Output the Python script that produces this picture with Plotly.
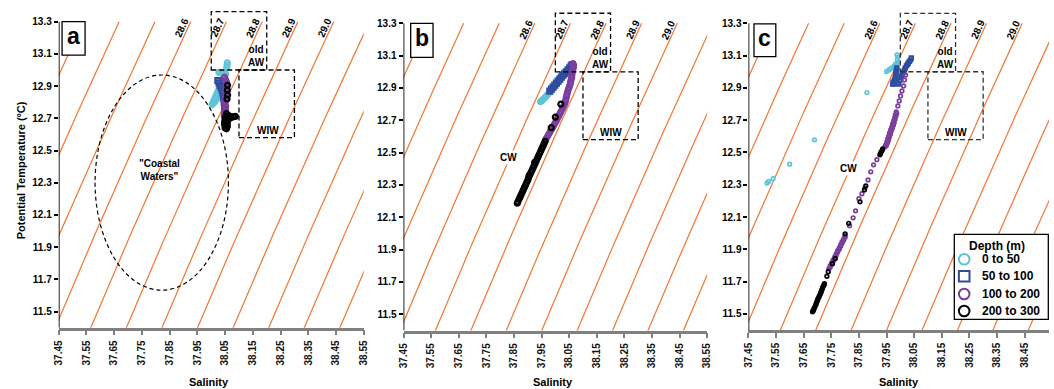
import numpy as np
import plotly.graph_objects as go

# ---------------- data ----------------
SIGMA_LEVELS = [28.3, 28.4, 28.5, 28.6, 28.7, 28.8, 28.9, 29.0, 29.1, 29.2, 29.3, 29.4]
LABELED_LEVELS = [28.6, 28.7, 28.8, 28.9, 29.0]
X_TICKS = [37.45, 37.55, 37.65, 37.75, 37.85, 37.95, 38.05, 38.15, 38.25, 38.35, 38.45, 38.55]
Y_TICKS = [11.5, 11.7, 11.9, 12.1, 12.3, 12.5, 12.7, 12.9, 13.1, 13.3]
DEPTH_CLASSES = ["0 to 50", "50 to 100", "100 to 200", "200 to 300"]
DEPTH_COLORS = ["#5ec4d6", "#2f4da0", "#7a3e9d", "#000000"]
DEPTH_SYMBOLS = ["circle-open", "square-open", "circle-open", "circle-open"]

# panel a
A_S_0_50 = [38.058, 38.057, 38.056, 38.028, 38.036, 38.044, 38.052, 38.048, 38.044, 38.040, 38.036, 38.033,
            38.029, 38.025, 38.021, 38.017, 38.013, 38.009, 38.006, 38.003, 38.034, 38.040, 38.046, 38.052,
            38.049, 38.043, 38.038, 38.033, 38.012, 38.018]
A_T_0_50 = [13.045, 13.030, 13.015, 12.985, 12.982, 12.978, 12.975, 12.960, 12.945, 12.930, 12.915, 12.900,
            12.885, 12.870, 12.855, 12.840, 12.825, 12.810, 12.795, 12.785, 12.920, 12.905, 12.890, 12.875,
            12.860, 12.850, 12.840, 12.830, 12.800, 12.815]
A_S_50_100 = [38.024, 38.028, 38.032, 38.036, 38.040, 38.042, 38.044, 38.046, 38.047, 38.048, 38.049, 38.050]
A_T_50_100 = [12.935, 12.920, 12.905, 12.890, 12.875, 12.860, 12.840, 12.820, 12.800, 12.780, 12.760, 12.740]
A_S_100_200 = [38.048, 38.052, 38.055, 38.056, 38.054, 38.052, 38.053, 38.055, 38.054, 38.051, 38.049, 38.050,
               38.052, 38.051, 38.049, 38.048, 38.047]
A_T_100_200 = [12.955, 12.940, 12.925, 12.910, 12.895, 12.880, 12.865, 12.850, 12.835, 12.820, 12.805, 12.790,
               12.775, 12.760, 12.745, 12.730, 12.715]
A_S_200_300 = [38.059, 38.058, 38.059, 38.057, 38.055, 38.053, 38.050, 38.049, 38.048, 38.049, 38.050, 38.055,
               38.058, 38.058, 38.060, 38.066, 38.073, 38.080, 38.087, 38.065, 38.059]
A_T_200_300 = [12.905, 12.875, 12.845, 12.820, 12.730, 12.715, 12.700, 12.685, 12.670, 12.655, 12.640, 12.635,
               12.650, 12.670, 12.690, 12.700, 12.705, 12.710, 12.712, 12.715, 12.700]

# panel b
B_S_0_50 = [37.946, 37.951, 37.956, 37.962, 37.967, 37.972, 37.977]
B_T_0_50 = [12.815, 12.822, 12.830, 12.840, 12.850, 12.860, 12.870]
B_S_50_100 = [37.980, 37.986, 37.992, 37.998, 38.004, 38.010, 38.016, 38.022, 38.028, 38.034, 38.040, 38.046,
              38.052, 38.057, 38.061]
B_T_50_100 = [12.880, 12.893, 12.905, 12.917, 12.930, 12.942, 12.955, 12.967, 12.980, 12.990, 13.000, 13.012,
              13.024, 13.036, 13.045]
B_S_100_200 = [38.064, 38.066, 38.065, 38.063, 38.061, 38.060, 38.059, 38.057, 38.055, 38.053, 38.050, 38.047,
               38.044, 38.042, 38.040, 38.038, 38.036, 38.033, 38.029, 38.025, 38.020, 38.016, 38.012, 38.007,
               38.003, 37.998, 37.993, 37.988, 37.983, 37.978, 37.973, 37.968, 37.964]
B_T_100_200 = [13.050, 13.040, 13.025, 13.010, 12.995, 12.980, 12.965, 12.950, 12.935, 12.920, 12.905, 12.890,
               12.875, 12.860, 12.845, 12.830, 12.815, 12.800, 12.785, 12.770, 12.755, 12.740, 12.725, 12.710,
               12.695, 12.680, 12.665, 12.650, 12.635, 12.620, 12.605, 12.590, 12.578]
B_S_200_300 = [38.020, 38.000, 37.985, 37.963, 37.959, 37.955, 37.951, 37.947, 37.943, 37.939, 37.935, 37.931,
               37.927, 37.923, 37.919, 37.915, 37.911, 37.907, 37.903, 37.900, 37.896, 37.892, 37.888, 37.884,
               37.880, 37.876, 37.872, 37.868, 37.864, 37.862, 37.925, 37.905]
B_T_200_300 = [12.800, 12.720, 12.655, 12.570, 12.555, 12.540, 12.525, 12.510, 12.495, 12.480, 12.465, 12.450,
               12.435, 12.420, 12.405, 12.390, 12.375, 12.360, 12.345, 12.330, 12.315, 12.300, 12.285, 12.270,
               12.255, 12.240, 12.225, 12.210, 12.195, 12.187, 12.440, 12.360]

# panel c
C_S_0_50 = [37.517, 37.523, 37.539, 37.599, 37.689, 37.879, 37.950, 37.961, 37.972, 37.983, 37.992, 37.990,
            37.988, 37.988, 37.988, 37.988, 37.988, 37.956, 37.967, 37.978, 37.989, 37.989]
C_T_0_50 = [12.310, 12.320, 12.337, 12.427, 12.578, 12.871, 13.001, 13.014, 13.027, 13.048, 13.091, 13.060,
            13.104, 13.036, 12.999, 12.961, 12.931, 13.008, 13.020, 13.036, 13.075, 13.018]
C_S_50_100 = [37.972, 37.976, 37.979, 37.983, 37.985, 37.987, 37.994, 38.001, 38.008, 38.015, 38.022, 38.029,
              38.037, 38.040, 37.974, 37.978, 37.990, 37.998, 38.004, 38.011, 38.018, 38.026, 38.033, 37.981,
              37.984, 37.986]
C_T_50_100 = [12.924, 12.924, 12.949, 12.974, 12.999, 13.023, 12.924, 12.962, 12.986, 13.011, 13.036, 13.054,
              13.073, 13.085, 12.935, 12.940, 12.930, 12.945, 12.974, 12.998, 13.023, 13.045, 13.064, 12.962,
              12.987, 13.011]
C_S_100_200 = [38.019, 38.015, 38.012, 38.006, 38.001, 37.996, 37.991, 37.985, 37.982, 37.979, 37.976, 37.972,
               37.969, 37.965, 37.961, 37.958, 37.954, 37.951, 37.947, 37.944, 37.915, 37.903, 37.893, 37.883,
               37.872, 37.861, 37.850, 37.838, 37.829, 37.816, 37.800, 37.795, 37.789, 37.784, 37.779, 37.773,
               37.768, 37.763, 37.757, 37.752, 37.746, 37.741,
               37.987, 37.984, 37.981, 37.978, 37.975, 37.971, 37.967, 37.964, 37.960, 37.957, 37.953, 37.949,
               37.800, 37.795, 37.789, 37.784, 37.779, 37.773, 37.768, 37.763, 37.757, 37.752, 37.746]
C_T_100_200 = [12.980, 12.949, 12.912, 12.881, 12.850, 12.819, 12.788, 12.751, 12.733, 12.714, 12.695, 12.677,
               12.658, 12.640, 12.621, 12.603, 12.584, 12.566, 12.547, 12.535, 12.455, 12.423, 12.380, 12.330,
               12.281, 12.244, 12.213, 12.138, 12.095, 12.046, 11.984, 11.965, 11.947, 11.928, 11.910, 11.891,
               11.873, 11.854, 11.835, 11.817, 11.798, 11.779,
               12.742, 12.724, 12.705, 12.686, 12.668, 12.649, 12.631, 12.612, 12.594, 12.575, 12.557, 12.541,
               11.975, 11.956, 11.937, 11.919, 11.900, 11.882, 11.863, 11.845, 11.826, 11.808, 11.789]
C_S_200_300 = [37.936, 37.931, 37.926, 37.875, 37.870, 37.854, 37.813, 37.800, 37.764, 37.754, 37.739, 37.734,
               37.725, 37.720, 37.716, 37.712, 37.707, 37.702, 37.698, 37.694, 37.689, 37.685, 37.682,
               37.934, 37.928, 37.723, 37.718, 37.714, 37.710, 37.705, 37.700, 37.696, 37.692, 37.687, 37.684]
C_T_200_300 = [12.522, 12.504, 12.485, 12.293, 12.268, 12.194, 12.061, 11.996, 11.842, 11.811, 11.761, 11.733,
               11.687, 11.668, 11.650, 11.631, 11.612, 11.594, 11.575, 11.557, 11.538, 11.522, 11.513,
               12.513, 12.494, 11.678, 11.659, 11.640, 11.622, 11.603, 11.585, 11.566, 11.548, 11.530, 11.517]

PANELS = {
    "a": [(A_S_0_50, A_T_0_50), (A_S_50_100, A_T_50_100), (A_S_100_200, A_T_100_200), (A_S_200_300, A_T_200_300)],
    "b": [(B_S_0_50, B_T_0_50), (B_S_50_100, B_T_50_100), (B_S_100_200, B_T_100_200), (B_S_200_300, B_T_200_300)],
    "c": [(C_S_0_50, C_T_0_50), (C_S_50_100, C_T_50_100), (C_S_100_200, C_T_100_200), (C_S_200_300, C_T_200_300)],
}

# water-mass boxes (salinity, temperature)
OLD_AW_BOX = (38.0, 38.2, 13.0, 13.362)
WIW_BOX = (38.1, 38.3, 12.58, 13.0)
COASTAL_ELLIPSE = (37.581, 38.062, 11.633, 12.969)

# ---------------- helpers ----------------
W, H = 1054, 389
FONT = "Liberation Sans, Arial, sans-serif"
ORANGE = "#f37431"


def b(txt):
    return "<b>" + txt + "</b>"


def sigma_theta(S, T):
    rw = (999.842594 + 6.793952e-2 * T - 9.095290e-3 * T ** 2 + 1.001685e-4 * T ** 3
          - 1.120083e-6 * T ** 4 + 6.536332e-9 * T ** 5)
    A = 8.24493e-1 - 4.0899e-3 * T + 7.6438e-5 * T ** 2 - 8.2467e-7 * T ** 3 + 5.3875e-9 * T ** 4
    B = -5.72466e-3 + 1.0227e-4 * T - 1.6546e-6 * T ** 2
    C = 4.8314e-4
    return rw + A * S + B * S ** 1.5 + C * S ** 2 - 1000.0


def salinity_on(sig, T):
    T = np.asarray(T, dtype=float)
    S = np.full_like(T, 38.0)
    for _ in range(10):
        f = sigma_theta(S, T) - sig
        d = (sigma_theta(S + 1e-4, T) - sigma_theta(S - 1e-4, T)) / 2e-4
        S = S - f / d
    return S


def ydom(py_top_tick, py_bottom):
    k = (py_bottom - py_top_tick) / 1.9
    py_top = py_top_tick - 0.1 * k
    return [(H - py_bottom) / H, (H - py_top) / H]


panel_geom = {
    "a": dict(x0=53.3, kx=280.2, ytop=21.7, ybot=327.7, box=(37.462, 37.545, 13.093, 13.300),
              sal_x=205, msize=5, mline=2.2),
    "b": dict(x0=401.7, kx=279.0, ytop=23.3, ybot=330.5, box=(37.476, 37.557, 13.089, 13.300),
              sal_x=553, msize=5, mline=2.2),
    "c": dict(x0=750.3, kx=279.0, ytop=23.3, ybot=330.0, box=(37.470, 37.549, 13.094, 13.296),
              sal_x=902, msize=3.6, mline=1.7),
}

fig = go.Figure()
layout_axes = {}
shapes = []
annotations = []
T_grid = np.linspace(11.3, 13.3, 81)


def txt_ann(**kw):
    d = dict(showarrow=False, xanchor="center", yanchor="middle")
    d.update(kw)
    return d


for i, (name, g) in enumerate(panel_geom.items()):
    sfx = "" if i == 0 else str(i + 1)
    xa, ya = "x" + sfx, "y" + sfx
    x_end_px = min(g["x0"] + 1.1 * g["kx"], W)
    x_max = 37.45 + (x_end_px - g["x0"]) / g["kx"]
    layout_axes["xaxis" + sfx] = dict(
        domain=[g["x0"] / W, x_end_px / W], range=[37.45, x_max], anchor=ya,
        showgrid=False, zeroline=False, showline=True, linecolor="#808080", linewidth=2.5,
        ticks="outside", ticklen=5, tickwidth=1.5, tickcolor="#808080",
        tickvals=X_TICKS, ticktext=[b("%.2f" % v) for v in X_TICKS], tickangle=-90,
        tickfont=dict(family=FONT, size=10, color="#111"), ticklabelstandoff=1,
    )
    layout_axes["yaxis" + sfx] = dict(
        domain=ydom(g["ytop"], g["ybot"]), range=[11.4, 13.4], anchor=xa,
        showgrid=False, zeroline=False, showline=False,
        ticks="outside", ticklen=4, tickwidth=1.5, tickcolor="black",
        tickvals=Y_TICKS, ticktext=[b("%.1f" % v) for v in Y_TICKS],
        tickfont=dict(family=FONT, size=10, color="black"),
    )

    # isopycnals
    for sig in SIGMA_LEVELS:
        fig.add_trace(go.Scatter(x=salinity_on(sig, T_grid), y=T_grid, mode="lines",
                                 line=dict(color=ORANGE, width=1.2), xaxis=xa, yaxis=ya,
                                 hoverinfo="skip", showlegend=False))
    for sig in LABELED_LEVELS:
        t_lab = 13.262
        s_lab = float(salinity_on(sig, [t_lab])[0])
        annotations.append(txt_ann(x=s_lab, y=t_lab, xref=xa, yref=ya, text=b("%.1f" % sig),
                                   textangle=-66, xshift=-6,
                                   font=dict(family=FONT, size=10, color="black")))

    # data
    for k, (S, T) in enumerate(PANELS[name]):
        fig.add_trace(go.Scatter(x=S, y=T, mode="markers", xaxis=xa, yaxis=ya, name=DEPTH_CLASSES[k],
                                 marker=dict(symbol=DEPTH_SYMBOLS[k], size=g["msize"], color=DEPTH_COLORS[k],
                                             line=dict(width=g["mline"], color=DEPTH_COLORS[k])),
                                 showlegend=False))

    # y axis line
    shapes.append(dict(type="line", xref=xa, yref=ya, x0=37.45, x1=37.45, y0=11.4, y1=13.3,
                       line=dict(color="black", width=1.7), layer="above"))
    dash_col = "black" if name != "c" else "#333"
    for (s0, s1, t0, t1) in (OLD_AW_BOX, WIW_BOX):
        shapes.append(dict(type="rect", xref=xa, yref=ya, x0=s0, x1=s1, y0=t0, y1=t1,
                           line=dict(color=dash_col, width=1.3, dash="5px,3px"), layer="above"))
    # panel letter box
    bx0, bx1, by0, by1 = g["box"]
    shapes.append(dict(type="rect", xref=xa, yref=ya, x0=bx0, x1=bx1, y0=by0, y1=by1,
                       fillcolor="white", line=dict(color="black", width=1.3), layer="above"))
    annotations.append(txt_ann(x=(bx0 + bx1) / 2, y=(by0 + by1) / 2, xref=xa, yref=ya, text=b(name),
                               yshift=2, font=dict(family=FONT, size=23, color="black")))
    lab_font = dict(family=FONT, size=10, color="black")
    annotations.append(txt_ann(x=38.165, y=13.087, xref=xa, yref=ya, text=b("old<br>AW"), font=lab_font))
    annotations.append(txt_ann(x=38.203, y=12.624, xref=xa, yref=ya, text=b("WIW"), font=lab_font))
    if name == "a":
        e0, e1, f0, f1 = COASTAL_ELLIPSE
        shapes.append(dict(type="circle", xref=xa, yref=ya, x0=e0, x1=e1, y0=f0, y1=f1,
                           line=dict(color="black", width=1.2, dash="4px,3px"), layer="above"))
        annotations.append(txt_ann(x=37.815, y=12.379, xref=xa, yref=ya, text=b('"Coastal<br>Waters"'),
                                   font=lab_font))
    else:
        cw = (37.831, 12.469) if name == "b" else (37.813, 12.401)
        annotations.append(txt_ann(x=cw[0], y=cw[1], xref=xa, yref=ya, text=b("CW"),
                                   bgcolor="white", font=lab_font))
    annotations.append(txt_ann(x=g["sal_x"] / W, y=(H - 381.7) / H, xref="paper", yref="paper",
                               text=b("Salinity"), font=dict(family=FONT, size=11, color="black")))

annotations.append(txt_ann(x=15.5 / W, y=(H - 170) / H, xref="paper", yref="paper",
                           text=b("Potential Temperature (ºC)"), textangle=-90,
                           font=dict(family=FONT, size=11, color="black")))

# legend (panel c)
shapes.append(dict(type="rect", xref="paper", yref="paper", x0=958.3 / W, x1=1053.3 / W,
                   y0=(H - 319.3) / H, y1=(H - 234.3) / H, fillcolor="white",
                   line=dict(color="black", width=1.3), layer="above"))
annotations.append(txt_ann(x=1001.7 / W, y=(H - 245.5) / H, xref="paper", yref="paper", text=b("Depth (m)"),
                           font=dict(family=FONT, size=12, color="black")))
row_y = [259.3, 276.3, 294.0, 311.0]
for k, lab in enumerate(DEPTH_CLASSES):
    common = dict(xref="paper", yref="paper", xsizemode="pixel", ysizemode="pixel",
                  xanchor=968.3 / W, yanchor=(H - row_y[k]) / H, x0=-5.3, x1=5.3, y0=-5.3, y1=5.3,
                  line=dict(color=DEPTH_COLORS[k], width=2), layer="above")
    shapes.append(dict(type="rect" if DEPTH_SYMBOLS[k].startswith("square") else "circle", **common))
    annotations.append(txt_ann(x=984.3 / W, y=(H - row_y[k]) / H, xref="paper", yref="paper", text=b(lab),
                               xanchor="left", font=dict(family=FONT, size=12, color="black")))

fig.update_layout(width=W, height=H, margin=dict(l=0, r=0, t=0, b=0), paper_bgcolor="white",
                  plot_bgcolor="white", showlegend=False, shapes=shapes, annotations=annotations,
                  **layout_axes)
fig.write_html("out.html")
